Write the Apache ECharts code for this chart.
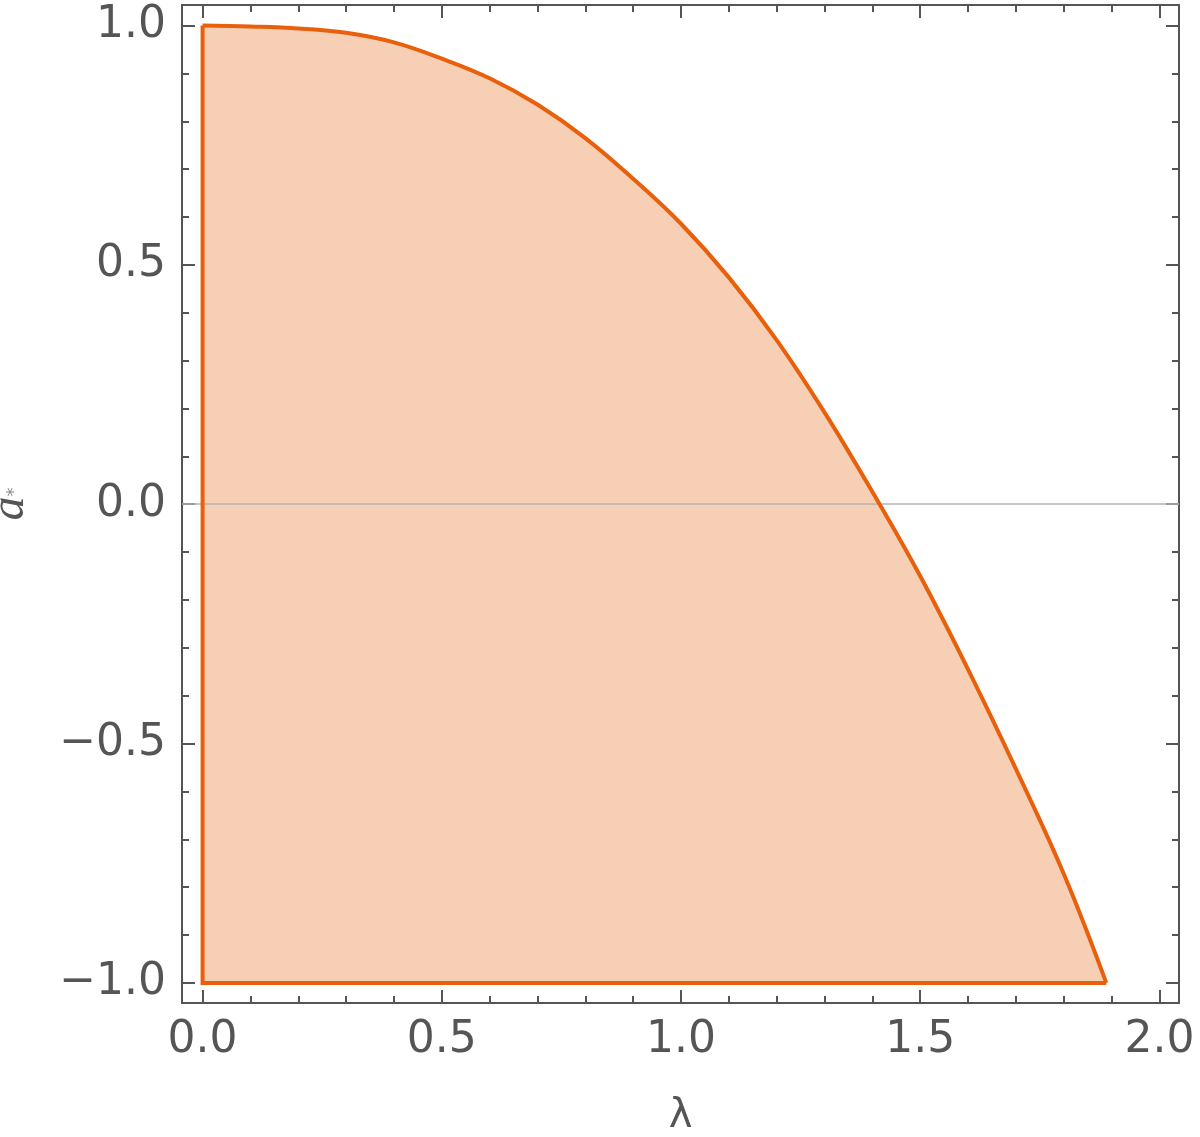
<!DOCTYPE html>
<html>
<head>
<meta charset="utf-8">
<script src="https://cdn.jsdelivr.net/npm/echarts@6/dist/echarts.min.js"></script>
<style>
  html, body { margin: 0; padding: 0; background: #fff; }
  #chart { width: 1200px; height: 1137px; }
</style>
</head>
<body>
<div id="chart"></div>
<script>
// boundary curve
const lambdaVals = [0, 0.1, 0.2, 0.3, 0.4, 0.5, 0.6, 0.7, 0.8, 0.9, 1.0, 1.1, 1.2, 1.3, 1.4, 1.5, 1.6, 1.7, 1.8, 1.889];
const aVals = [1.0, 0.998, 0.994, 0.985, 0.965, 0.931, 0.890, 0.835, 0.765, 0.680, 0.586, 0.474, 0.343, 0.192, 0.026, -0.150, -0.345, -0.553, -0.772, -1.0];
const aFloor = -1.0;

const xRange = [-0.043, 2.041];
const yRange = [-1.042, 1.043];
const xMajorTicks = [0, 0.5, 1, 1.5, 2];
const xMinorTicks = [0.1, 0.2, 0.3, 0.4, 0.6, 0.7, 0.8, 0.9, 1.1, 1.2, 1.3, 1.4, 1.6, 1.7, 1.8, 1.9];
const yMajorTicks = [-1, -0.5, 0, 0.5, 1];
const yMinorTicks = [-0.9, -0.8, -0.7, -0.6, -0.4, -0.3, -0.2, -0.1, 0.1, 0.2, 0.3, 0.4, 0.6, 0.7, 0.8, 0.9];

const FRAME = '#555555';
const LINE = '#e8600c';
const FILL = '#f7cfb5';
const TEXT = '#555555';

const chart = echarts.init(document.getElementById('chart'), undefined, { renderer: 'canvas' });

function fmt(v) {
  return v.toFixed(1).replace('-', '\u2212');
}

function axe(tipus, posicio, ticks, opts) {
  const range = tipus === 'x' ? xRange : yRange;
  return Object.assign({
    type: 'value',
    position: posicio,
    min: range[0],
    max: range[1],
    splitLine: { show: false },
    axisLine: { show: true, onZero: false, lineStyle: { color: FRAME, width: 2 } },
    axisTick: { show: true, inside: true, length: 13, customValues: ticks, lineStyle: { color: FRAME, width: 2 } },
    axisLabel: { show: false }
  }, opts || {});
}

function menors(ticks) {
  return { axisTick: { show: true, inside: true, length: 7, customValues: ticks, lineStyle: { color: FRAME, width: 2 } } };
}

function etiquetes(ticks, margin) {
  return {
    show: true,
    customValues: ticks,
    margin,
    color: TEXT,
    fontFamily: 'DejaVu Sans',
    fontSize: 44,
    formatter: fmt
  };
}

const curveData = lambdaVals.map((l, i) => [l, aVals[i]]);
const edgeData = [[lambdaVals[0], aVals[0]], [lambdaVals[0], aFloor], [lambdaVals[lambdaVals.length - 1], aFloor]];

const option = {
  backgroundColor: '#ffffff',
  animation: false,
  grid: { left: 182, right: 21, top: 5, bottom: 134, containLabel: false, outerBoundsMode: 'none' },
  xAxis: [
    axe('x', 'bottom', xMajorTicks, {
      axisLabel: etiquetes(xMajorTicks, 16),
      name: '\u03bb',
      nameLocation: 'middle',
      nameGap: 94,
      nameTextStyle: { color: TEXT, fontFamily: 'DejaVu Sans', fontSize: 40 }
    }),
    axe('x', 'bottom', xMinorTicks, menors(xMinorTicks)),
    axe('x', 'top', xMajorTicks),
    axe('x', 'top', xMinorTicks, menors(xMinorTicks))
  ],
  yAxis: [
    axe('y', 'left', yMajorTicks, {
      axisLabel: etiquetes(yMajorTicks, 16),
      name: '{a|a}{s|*}',
      nameLocation: 'middle',
      nameRotate: 90,
      nameGap: 140,
      nameTextStyle: {
        rich: {
          a: { fontFamily: 'Liberation Serif', fontStyle: 'italic', fontSize: 48, color: TEXT, padding: [0, 0, 8, 0] },
          s: { fontFamily: 'DejaVu Sans', fontSize: 18, color: '#8a8a8a' }
        }
      }
    }),
    axe('y', 'left', yMinorTicks, menors(yMinorTicks)),
    axe('y', 'right', yMajorTicks),
    axe('y', 'right', yMinorTicks, menors(yMinorTicks))
  ],
  series: [
    {
      // filled region
      type: 'line',
      xAxisIndex: 0,
      yAxisIndex: 0,
      data: curveData,
      smooth: 0.4,
      symbol: 'none',
      lineStyle: { width: 0 },
      areaStyle: { color: FILL, opacity: 1, origin: aFloor },
      silent: true,
      z: 1
    },
    {
      // left and bottom edges + zero line
      type: 'line',
      xAxisIndex: 0,
      yAxisIndex: 0,
      data: edgeData,
      symbol: 'none',
      lineStyle: { color: LINE, width: 4, join: 'miter' },
      silent: true,
      z: 3,
      markLine: {
        silent: true,
        symbol: 'none',
        label: { show: false },
        lineStyle: { color: '#b3b3b3', width: 1.5, type: 'solid' },
        data: [{ yAxis: 0 }],
        z: 2
      }
    },
    {
      // boundary curve
      type: 'line',
      xAxisIndex: 0,
      yAxisIndex: 0,
      data: curveData,
      smooth: 0.4,
      symbol: 'none',
      lineStyle: { color: LINE, width: 4 },
      silent: true,
      z: 4
    }
  ]
};

chart.setOption(option);
</script>
</body>
</html>
